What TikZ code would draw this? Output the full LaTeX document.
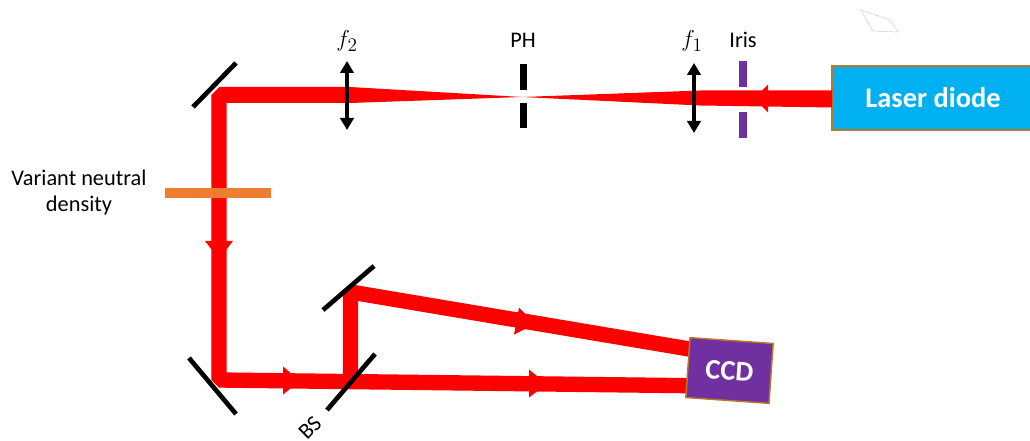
\documentclass[tikz,border=0pt]{standalone}
\usepackage{fontspec}
\setmainfont{Carlito}
\usetikzlibrary{arrows.meta}
\definecolor{beamred}{HTML}{FF0000}
\definecolor{skyfill}{HTML}{00B0F0}
\definecolor{purplefill}{HTML}{7030A0}
\definecolor{orangefill}{HTML}{ED7D31}
\definecolor{edgebrown}{HTML}{B5792A}
\tikzset{
  beam/.style={draw=beamred,line width=11.5pt,line join=bevel},
  taper/.style={fill=beamred,draw=none},
  head/.style={fill=beamred,draw=none},
  mirror/.style={draw=black,line width=3.5pt},
  lens/.style={draw=black,line width=2.8pt,{Triangle[length=9pt,width=10pt]}-{Triangle[length=9pt,width=10pt]}},
  blocker/.style={fill=black,draw=none},
  irisbar/.style={fill=purplefill,draw=none},
  label/.style={font=\fontsize{16.75}{19.5}\selectfont,text=black,inner sep=0pt},
  device/.style={draw=edgebrown,line width=1.1pt,text=white,inner sep=0pt,outer sep=0pt},
}
\begin{document}
\begin{tikzpicture}[x=0.75pt,y=-0.75pt]
\useasboundingbox (0,0) rectangle (1030,441);
\clip (0,0) rectangle (1030,441);
\fill[white] (0,0) rectangle (1030,441);
% key points
\coordinate (pin) at (522,97);
\coordinate (cornerA) at (219,95);
\coordinate (cornerB) at (219,380);
\coordinate (cornerC) at (350.5,382);
\coordinate (cornerD) at (350.5,292);
% devices
\node[device,fill=skyfill,minimum width=151.5pt,minimum height=48pt,font=\bfseries\fontsize{21.3}{25}\selectfont] (laser) at (933,98) {Laser diode};
% beams
\fill[taper] (laser.west |- 0,90.5) -- (laser.west |- 0,107.5) -- (700,105.5) -- (pin) -- (700,90.5) -- cycle;
\fill[taper] (cornerA |- 0,87) -- (350,87) -- (pin) -- (350,103) -- (cornerA |- 0,103) -- cycle;
\coordinate (ccdLow) at (690,385.7);
\coordinate (ccdHigh) at (691,349.3);
\draw[beam] (350,95) -- (cornerA) -- (cornerB) -- (ccdLow);
\draw[beam] (cornerC) -- (cornerD) -- (ccdHigh);
% arrow heads
\fill[head] (754,98.5) -- (768,84.5) -- (768,112.5) -- cycle;
\fill[head] (205,241) -- (233,241) -- (219,259) -- cycle;
\fill[head] (283,366.5) -- (283,394.5) -- (300,381) -- cycle;
\fill[head] (529,369.5) -- (529,397.5) -- (547,384) -- cycle;
\fill[head] (519,307.5) -- (514,334.5) -- (535,324) -- cycle;
% CCD
\node[device,fill=purplefill,rotate=-4,minimum width=62.5pt,minimum height=45pt,font=\bfseries\fontsize{21.3}{25}\selectfont] (ccd) at (729.5,370.5) {CCD};
% mirrors
\coordinate (m1a) at (193,107); \coordinate (m1b) at (236,63);
\coordinate (m2a) at (189,358); \coordinate (m2b) at (236,414);
\coordinate (m3a) at (323,310); \coordinate (m3b) at (374,266);
\coordinate (bsa) at (327,410); \coordinate (bsb) at (375,354);
\draw[mirror] (m1a) -- (m1b);
\draw[mirror] (m2a) -- (m2b);
\draw[mirror] (m3a) -- (m3b);
\draw[mirror] (bsa) -- (bsb);
% lenses
\coordinate (f2top) at (347,61); \coordinate (f2bot) at (347,130);
\coordinate (f1top) at (694,63); \coordinate (f1bot) at (694,133);
\draw[lens] (f2top) -- (f2bot);
\draw[lens] (f1top) -- (f1bot);
% pinhole and iris
\fill[blocker] (519.5,64) rectangle (526.5,90);
\fill[blocker] (519.5,103) rectangle (526.5,128);
\fill[irisbar] (739,61) rectangle (747,87);
\fill[irisbar] (739,112) rectangle (747,138);
% density filter
\fill[orangefill] (165,188) rectangle (271,198);
% stray outline
\draw[gray!35,line width=0.4pt] (861,10) -- (890,20) -- (898,32) -- (873,31) -- cycle;
% labels
\node[label] (lf2) at (347,41) {\fontsize{19}{22}\selectfont$f_2$};
\node[label] (lph) at (523,40) {PH};
\node[label] (lf1) at (692,41) {\fontsize{19}{22}\selectfont$f_1$};
\node[label] (liris) at (743,40) {Iris};
\node[label,align=center] (lvnd) at (79,193) {Variant neutral\\density};
\node[label,rotate=45] (lbs) at (310,428) {BS};
\end{tikzpicture}
\end{document}
